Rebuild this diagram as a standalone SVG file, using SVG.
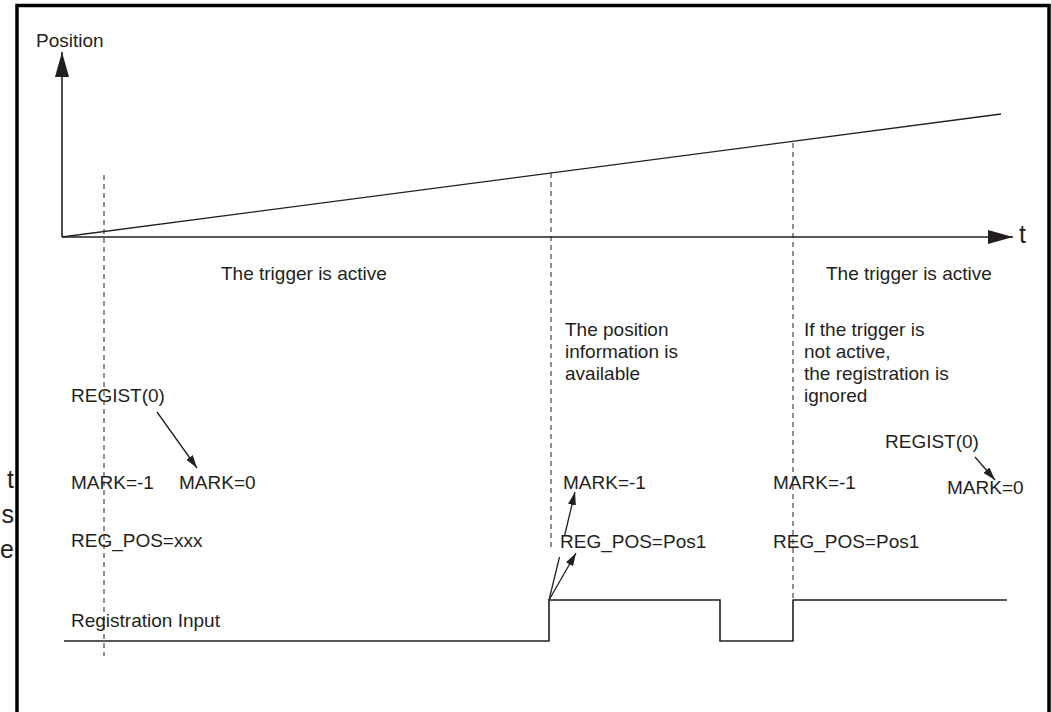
<svg xmlns="http://www.w3.org/2000/svg" width="1051" height="712" viewBox="0 0 1051 712">
<style>
text{font-family:"Liberation Sans",Arial,sans-serif;font-size:19px;fill:#231f20}
.big{font-size:25px}
.ln{stroke:#231f20;stroke-width:1.3;fill:none}
.ax{stroke:#231f20;stroke-width:1.6;fill:none}
.dash{stroke:#231f20;stroke-width:1;stroke-dasharray:5,4;fill:none}
.sig{stroke:#231f20;stroke-width:1.6;fill:none}
</style>
<defs>
<marker id="ah" markerUnits="userSpaceOnUse" markerWidth="14" markerHeight="8" refX="13" refY="4" orient="auto"><path d="M0,0 L13,4 L0,8 Z" fill="#231f20"/></marker>
<marker id="axh" markerUnits="userSpaceOnUse" markerWidth="26" markerHeight="14" refX="25" refY="7" orient="auto"><path d="M0,0 L25,7 L0,14 Z" fill="#231f20"/></marker>
</defs>
<rect x="17" y="5.5" width="1032" height="730" fill="#fff" stroke="#000" stroke-width="3.5"/>
<g id="cut-text">
<text class="big" x="14" y="488" text-anchor="end">t</text>
<text class="big" x="14" y="523" text-anchor="end">s</text>
<text class="big" x="14" y="558" text-anchor="end">e</text>
</g>
<g id="axes">
<line class="ax" x1="62" y1="237" x2="62" y2="52" marker-end="url(#axh)"/>
<line class="ax" x1="62" y1="237" x2="1013" y2="237" marker-end="url(#axh)"/>
<text x="36" y="47">Position</text>
<text x="1019" y="243" style="font-size:25px">t</text>
</g>
<g id="position-line">
<line class="ln" x1="62" y1="237" x2="1001" y2="114"/>
</g>
<g id="markers">
<line class="dash" x1="104" y1="175" x2="104" y2="656"/>
<line class="dash" x1="551" y1="173" x2="551" y2="550"/>
<line class="dash" x1="793" y1="143" x2="793" y2="600"/>
</g>
<g id="trigger-left"><text x="221" y="280">The trigger is active</text></g>
<g id="trigger-right"><text x="826" y="280">The trigger is active</text></g>
<g id="note-position">
<text x="565" y="336">The position</text>
<text x="565" y="358">information is</text>
<text x="565" y="380">available</text>
</g>
<g id="note-ignored">
<text x="804" y="336">If the trigger is</text>
<text x="804" y="358">not active,</text>
<text x="804" y="380">the registration is</text>
<text x="804" y="402">ignored</text>
</g>
<g id="state-1">
<text x="71" y="402">REGIST(0)</text>
<text x="71" y="489">MARK=-1</text>
<text x="179" y="489">MARK=0</text>
<text x="71" y="547">REG_POS=xxx</text>
</g>
<g id="state-2">
<text x="563" y="489">MARK=-1</text>
<text x="560" y="548">REG_POS=Pos1</text>
</g>
<g id="state-3">
<text x="773" y="489">MARK=-1</text>
<text x="773" y="548">REG_POS=Pos1</text>
</g>
<g id="state-4">
<text x="885" y="448">REGIST(0)</text>
<text x="947" y="494">MARK=0</text>
</g>
<g id="registration-input">
<text x="71" y="627">Registration Input</text>
<polyline class="sig" points="64,641 549,641 549,600 720,600 720,641 793,641 793,600 1007,600"/>
</g>
<g id="connectors">
<line class="ln" x1="157" y1="412" x2="197" y2="468" marker-end="url(#ah)"/>
<line class="ln" x1="549" y1="600" x2="559.5" y2="557"/>
<line class="ln" x1="564.5" y1="536" x2="575" y2="492" marker-end="url(#ah)"/>
<line class="ln" x1="549" y1="600" x2="576" y2="553" marker-end="url(#ah)"/>
<line class="ln" x1="975" y1="457" x2="995" y2="480" marker-end="url(#ah)"/>
</g>
</svg>
